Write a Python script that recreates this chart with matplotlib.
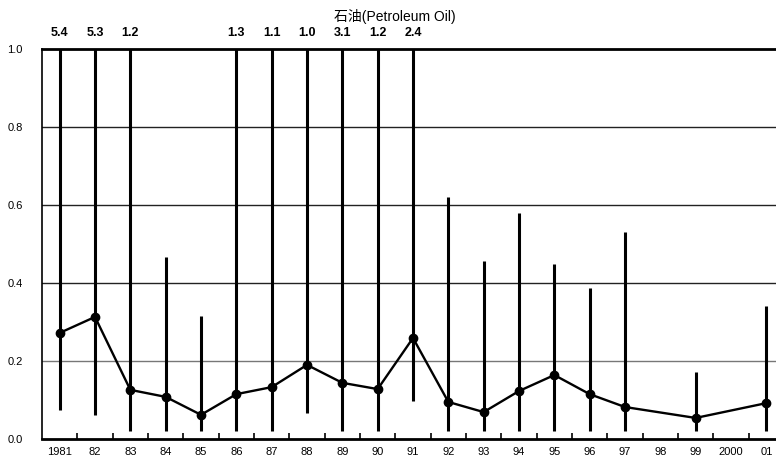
import matplotlib
matplotlib.use("Agg")
import matplotlib.pyplot as plt
import numpy as np

plt.rcParams['font.family'] = ['Liberation Sans', 'Noto Sans CJK JP', 'DejaVu Sans']

years = ["1981", "82", "83", "84", "85", "86", "87", "88", "89", "90",
         "91", "92", "93", "94", "95", "96", "97", "98", "99", "2000", "01"]
mean = [0.272, 0.313, 0.126, 0.108, 0.062, 0.115, 0.133, 0.190, 0.144, 0.128,
        0.259, 0.095, 0.069, 0.123, 0.164, 0.115, 0.082, None, 0.054, None, 0.092]
low = [0.074, 0.062, 0.02, 0.02, 0.02, 0.02, 0.02, 0.067, 0.02, 0.02,
       0.097, 0.02, 0.02, 0.02, 0.02, 0.02, 0.02, None, 0.02, None, 0.02]
high = [5.4, 5.3, 1.2, 0.467, 0.315, 1.3, 1.1, 1.0, 3.1, 1.2,
        2.4, 0.62, 0.456, 0.58, 0.449, 0.387, 0.531, None, 0.172, None, 0.341]
title = "石油(Petroleum Oil)"
yticks = [0.0, 0.2, 0.4, 0.6, 0.8, 1.0]

W, H = 776, 463
fig = plt.figure(figsize=(W / 100, H / 100), dpi=100)
ax = fig.add_axes([42 / W, (H - 439) / H, (784 - 42) / W, (439 - 49) / H])

x = np.arange(len(years))
ax.set_xlim(-0.5, len(years) - 0.5)
ax.set_ylim(0, 1.0)

for yv in yticks[1:-1]:
    ax.axhline(yv, color='#222222' if yv != 0.2 else '#777777', lw=1.0, zorder=1)

valid = [i for i in range(len(years)) if mean[i] is not None]
for i in valid:
    ax.vlines(x[i], low[i], min(high[i], 1.0), color='black', lw=2.2, zorder=3)
    if high[i] >= 1.0:
        ax.text(x[i], 1.025, f"{high[i]:.1f}", ha='center', va='bottom',
                fontsize=9, fontweight='bold', clip_on=False)

ax.plot([x[i] for i in valid], [mean[i] for i in valid], color='black', lw=1.7,
        marker='o', markersize=6, zorder=4)

ax.set_yticks(yticks)
ax.set_yticklabels([f"{v:.1f}" for v in yticks], fontsize=8)
ax.tick_params(axis='y', length=0, pad=14)

ax.set_xticks(x)
ax.set_xticklabels(years, fontsize=8)
ax.tick_params(axis='x', which='major', length=0, pad=6)
ax.set_xticks(np.arange(0.5, len(years) - 0.5, 1.0), minor=True)
ax.tick_params(axis='x', which='minor', direction='in', length=4, width=1.2)

ax.spines['left'].set_linewidth(1.2)
ax.spines['bottom'].set_linewidth(2.0)
ax.spines['top'].set_linewidth(2.0)
ax.spines['right'].set_visible(False)

fig.text(395 / W, 1 - 17 / H, title, ha='center', va='center', fontsize=10)

fig.savefig("out.png", dpi=100)
